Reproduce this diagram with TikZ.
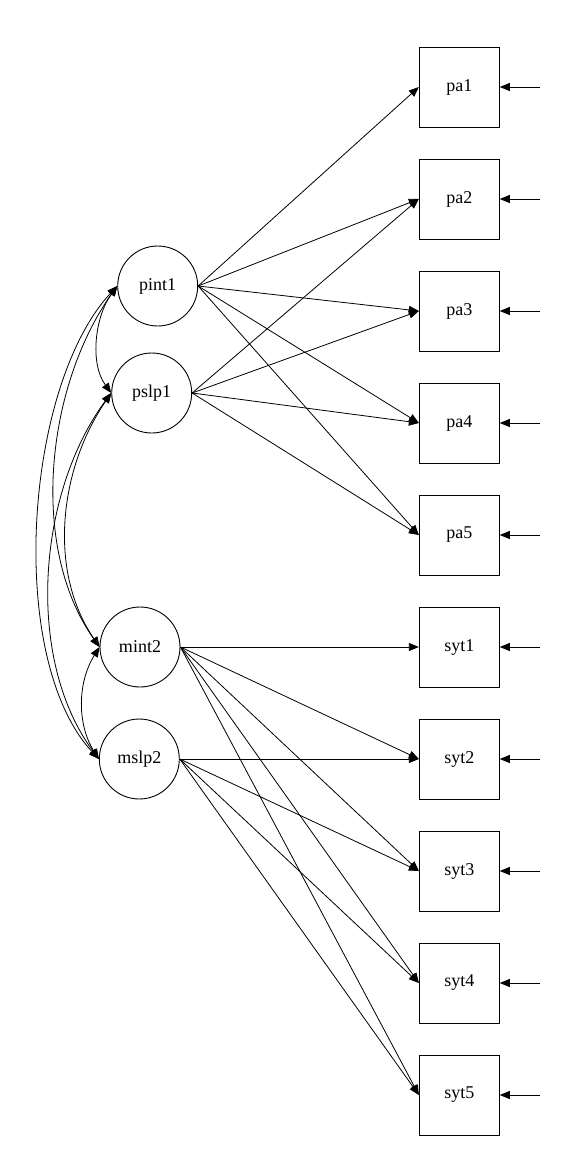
\documentclass[tikz,border=0pt]{standalone}
\usepackage{fontspec}
\setmainfont{Liberation Serif}
\usetikzlibrary{arrows.meta}
\begin{document}
\begin{tikzpicture}[x=1pt,y=-1pt,
  every node/.style={font=\fontsize{18}{21}\selectfont},
  latent/.style={draw,circle,minimum size=80pt,inner sep=0pt,line width=0.9pt},
  observed/.style={draw,rectangle,minimum width=80pt,minimum height=80pt,inner sep=0pt,line width=0.9pt},
  path/.style={line width=0.8pt,-{Triangle[length=10pt,width=8pt]}},
  cov/.style={line width=0.8pt,{Triangle[length=10pt,width=8pt]}-{Triangle[length=10pt,width=8pt]}}
]
\useasboundingbox (0,0) rectangle (577,1165);
% latent variables
\node[latent] (pint1) at (157.7,286) {pint1};
\node[latent] (pslp1) at (151.7,393) {pslp1};
\node[latent] (mint2) at (140,647) {mint2};
\node[latent] (mslp2) at (139.3,759) {mslp2};
% observed variables
\foreach \n/\y in {pa1/87,pa2/199,pa3/311,pa4/423,pa5/535,syt1/647,syt2/759,syt3/871,syt4/983,syt5/1095}{
  \node[observed] (\n) at (459.3,\y) {\n};
  \coordinate (e\n) at (540,\y);
  \draw[path] (e\n) -- (\n.east);
}
% loadings
\foreach \t in {pa1,pa2,pa3,pa4,pa5}{\draw[path] (pint1.east) -- (\t.west);}
\foreach \t in {pa2,pa3,pa4,pa5}{\draw[path] (pslp1.east) -- (\t.west);}
\foreach \t in {syt1,syt2,syt3,syt4,syt5}{\draw[path] (mint2.east) -- (\t.west);}
\foreach \t in {syt2,syt3,syt4,syt5}{\draw[path] (mslp2.east) -- (\t.west);}
% covariances
\draw[cov] (pint1.west) .. controls +(-22,30) and +(-22,-30) .. (pslp1.west);
\draw[cov] (mint2.west) .. controls +(-22,35) and +(-22,-35) .. (mslp2.west);
\draw[cov] (pint1.west) .. controls +(-93,100) and +(-93,-100) .. (mslp2.west);
\draw[cov] (pint1.west) .. controls +(-71,100) and +(-71,-100) .. (mint2.west);
\draw[cov] (pslp1.west) .. controls +(-74,100) and +(-74,-100) .. (mslp2.west);
\draw[cov] (pslp1.west) .. controls +(-52,76) and +(-52,-76) .. (mint2.west);
\end{tikzpicture}
\end{document}
